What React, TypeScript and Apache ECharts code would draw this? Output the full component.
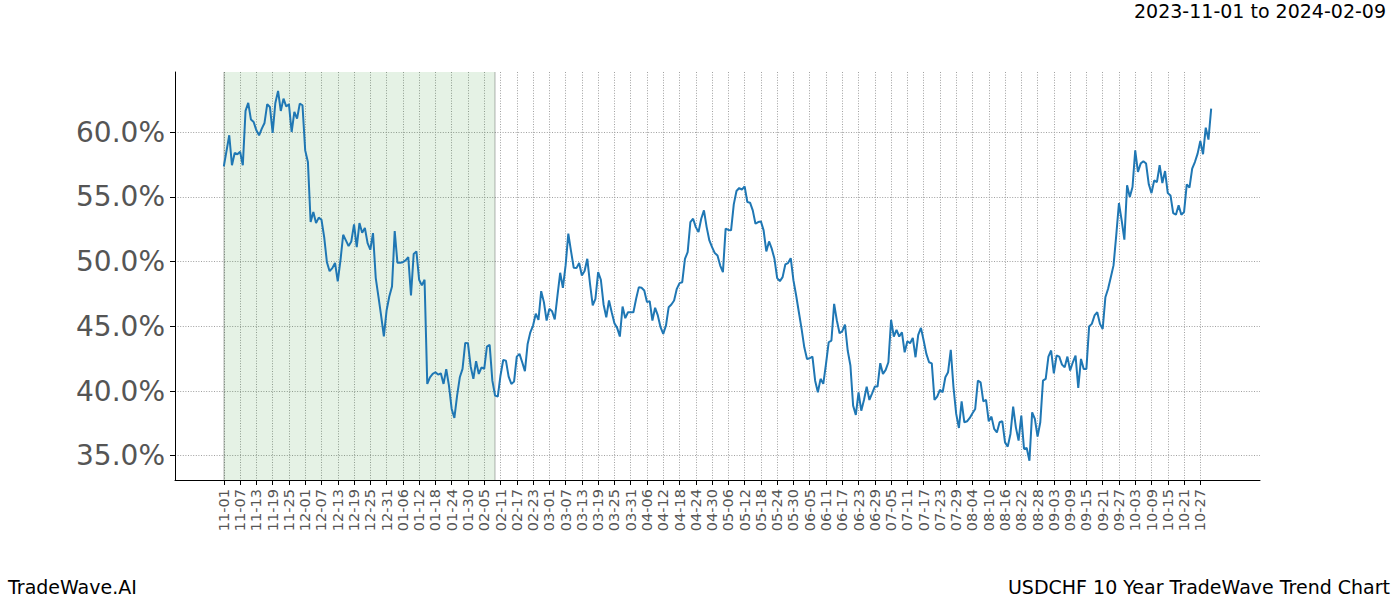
import { useEffect, useRef } from 'react';
import * as echarts from 'echarts';

const tickLabels = [
  '11-01', '11-07', '11-13', '11-19', '11-25', '12-01', '12-07', '12-13', '12-19', '12-25',
  '12-31', '01-06', '01-12', '01-18', '01-24', '01-30', '02-05', '02-11', '02-17', '02-23',
  '03-01', '03-07', '03-13', '03-19', '03-25', '03-31', '04-06', '04-12', '04-18', '04-24',
  '04-30', '05-06', '05-12', '05-18', '05-24', '05-30', '06-05', '06-11', '06-17', '06-23',
  '06-29', '07-05', '07-11', '07-17', '07-23', '07-29', '08-04', '08-10', '08-16', '08-22',
  '08-28', '09-03', '09-09', '09-15', '09-21', '09-27', '10-03', '10-09', '10-15', '10-21',
  '10-27',
];

// day offset from 11-01 (6 days per tick label)
const dayOffsets = [
  0, 2, 3, 4, 5, 6, 7, 8, 9, 10, 11, 12, 13, 14, 15, 16, 17, 18, 19, 20,
  21, 22, 23, 24, 25, 26, 27, 28, 29, 30, 31, 32, 33, 34, 35, 36, 37, 38, 39, 40,
  41, 42, 43, 44, 45, 46, 47, 48, 49, 50, 51, 52, 53, 54, 55, 56, 57, 58, 59, 60,
  61, 62, 63, 64, 65, 66, 67, 68, 69, 70, 71, 72, 73, 74, 75, 76, 77, 78, 79, 80,
  81, 82, 83, 84, 85, 86, 87, 88, 89, 90, 91, 92, 93, 94, 95, 96, 97, 98, 99, 100,
  101, 102, 103, 104, 105, 106, 107, 108, 109, 110, 111, 112, 113, 114, 115, 116, 117, 118, 119, 120,
  121, 122, 123, 124, 125, 126, 127, 128, 129, 130, 131, 132, 133, 134, 135, 136, 137, 138, 139, 140,
  141, 142, 143, 144, 145, 146, 147, 148, 149, 150, 151, 152, 153, 154, 155, 156, 157, 158, 159, 160,
  161, 162, 163, 164, 165, 166, 167, 168, 169, 170, 171, 172, 173, 174, 175, 176, 177, 178, 179, 180,
  181, 182, 183, 184, 185, 186, 187, 188, 189, 190, 191, 192, 193, 194, 195, 196, 197, 198, 199, 200,
  201, 202, 203, 204, 205, 206, 207, 208, 209, 210, 211, 212, 213, 214, 215, 216, 217, 218, 219, 220,
  221, 222, 223, 224, 225, 226, 227, 228, 229, 230, 231, 232, 233, 234, 235, 236, 237, 238, 239, 240,
  241, 242, 243, 244, 245, 246, 247, 248, 249, 250, 251, 252, 253, 254, 255, 256, 257, 258, 259, 260,
  261, 262, 263, 264, 265, 266, 267, 268, 269, 270, 271, 272, 273, 274, 275, 276, 277, 278, 279, 280,
  281, 282, 283, 284, 285, 286, 287, 288, 289, 290, 291, 292, 293, 294, 295, 296, 297, 298, 299, 300,
  301, 302, 303, 304, 305, 306, 307, 308, 309, 310, 311, 312, 313, 314, 315, 316, 317, 318, 319, 320,
  321, 322, 323, 324, 325, 326, 327, 328, 329, 330, 331, 332, 333, 334, 335, 336, 337, 338, 339, 340,
  341, 342, 343, 344, 345, 346, 347, 348, 349, 350, 351, 352, 353, 354, 355, 356, 357, 358, 359, 360,
  361, 362, 363, 364,
];

// trend value (%)
const trendValues = [
  57.37, 59.77, 57.45, 58.4, 58.3, 58.5, 57.45, 61.65, 62.27, 60.98, 60.8, 60.15, 59.77, 60.28, 60.72, 62.17, 61.96, 59.95, 62.27, 63.2,
  61.65, 62.6, 62.0, 62.17, 60.02, 61.57, 61.06, 62.22, 62.09, 58.6, 57.7, 53.06, 53.83, 52.98, 53.4, 53.24, 51.9, 49.96, 49.26, 49.5,
  49.9, 48.47, 50.1, 52.08, 51.64, 51.2, 51.56, 52.88, 51.12, 52.98, 52.24, 52.6, 51.43, 50.92, 52.21, 48.75, 47.3, 45.8, 44.23, 46.22,
  47.31, 48.08, 52.36, 49.92, 49.92, 49.96, 50.1, 50.35, 47.38, 50.6, 50.79, 48.6, 48.16, 48.6, 40.55, 41.06, 41.32, 41.45, 41.27, 41.37,
  40.55, 41.68, 40.42, 38.61, 37.92, 39.64, 41.06, 41.71, 43.72, 43.69, 41.9, 40.94, 42.3, 41.32, 41.83, 41.71, 43.44, 43.57, 40.8, 39.64,
  39.57, 41.2, 42.4, 42.35, 41.11, 40.55, 40.73, 42.66, 42.87, 42.22, 41.53, 43.64, 44.54, 45.06, 45.97, 45.5, 47.72, 46.87, 45.45, 46.35,
  46.17, 45.53, 47.38, 49.14, 47.98, 49.71, 52.16, 50.81, 49.53, 49.5, 49.89, 48.93, 49.27, 50.22, 48.29, 46.61, 47.13, 49.19, 48.6, 46.69,
  45.7, 47.0, 46.09, 45.24, 44.88, 44.21, 46.53, 45.63, 46.09, 46.09, 46.09, 47.13, 48.03, 47.98, 47.77, 46.87, 46.95, 45.45, 46.43, 45.84,
  44.93, 44.42, 45.06, 46.48, 46.69, 47.0, 47.9, 48.34, 48.41, 50.22, 50.73, 53.06, 53.32, 52.67, 52.28, 53.32, 53.96, 52.67, 51.64, 51.12,
  50.66, 50.48, 49.7, 49.19, 52.55, 52.45, 52.42, 54.43, 55.46, 55.69, 55.56, 55.82, 54.61, 54.56, 53.96, 52.93, 53.06, 53.11, 52.42, 50.79,
  51.56, 51.0, 50.22, 48.72, 48.49, 48.8, 49.78, 49.89, 50.27, 48.55, 47.38, 46.09, 44.8, 43.38, 42.48, 42.53, 42.66, 40.8, 39.9, 40.94,
  40.55, 42.1, 43.77, 43.9, 46.74, 45.45, 44.47, 44.62, 45.14, 43.13, 41.97, 38.87, 38.15, 39.9, 38.48, 39.31, 40.34, 39.31, 39.82, 40.34,
  40.34, 42.15, 41.32, 41.63, 42.22, 45.5, 44.21, 44.73, 44.21, 44.54, 42.99, 43.85, 43.69, 44.11, 42.61, 44.34, 44.88, 43.9, 42.87, 42.22,
  42.14, 39.31, 39.57, 40.09, 39.9, 41.06, 41.45, 43.18, 40.29, 38.23, 37.14, 39.2, 37.58, 37.66, 37.92, 38.28, 38.61, 40.8, 40.67, 39.2,
  39.31, 37.66, 38.02, 37.07, 36.8, 37.58, 37.66, 36.03, 35.7, 36.68, 38.79, 37.19, 36.16, 38.1, 35.52, 35.6, 34.61, 38.35, 37.84, 36.47,
  37.58, 40.8, 40.94, 42.66, 43.13, 41.37, 42.74, 42.66, 42.04, 41.83, 42.66, 41.58, 42.22, 42.74, 40.24, 42.48, 41.71, 41.71, 44.98, 45.19,
  45.84, 46.09, 45.19, 44.8, 47.25, 47.9, 48.8, 49.71, 52.03, 54.53, 53.19, 51.7, 55.9, 54.99, 55.77, 58.61, 56.93, 57.58, 57.76, 57.58,
  55.98, 55.3, 56.28, 56.15, 57.45, 56.08, 57.0, 55.3, 55.12, 53.75, 53.63, 54.35, 53.63, 53.83, 55.98, 55.72, 57.19, 57.7, 58.35, 59.33,
  58.3, 60.36, 59.43, 61.83,
];

const highlightStartDay = 0;
const highlightEndDay = 100;
const titleText = '2023-11-01 to 2024-02-09';
const brandText = 'TradeWave.AI';
const chartName = 'USDCHF 10 Year TradeWave Trend Chart';

const DAYS_BEFORE = 18;
const DAYS_AFTER = 382;
const TICK_STEP = 6;

export default function App() {
  const ref = useRef<HTMLDivElement>(null);

  useEffect(() => {
    if (!ref.current) return;
    const chart = echarts.init(ref.current, undefined, { renderer: 'svg' });

    const categories: string[] = [];
    for (let k = -DAYS_BEFORE; k <= DAYS_AFTER; k++) categories.push('d' + k);

    const isTick = (index: number) => {
      const k = index - DAYS_BEFORE;
      return k >= 0 && k % TICK_STEP === 0 && k / TICK_STEP < tickLabels.length;
    };

    const seriesData = dayOffsets.map((d, i) => [d + DAYS_BEFORE, trendValues[i]]);
    const font = 'DejaVu Sans';
    const gridLine = { color: '#a0a0a0', width: 1, type: [1, 1.6] as any };

    chart.setOption({
      animation: false,
      backgroundColor: '#ffffff',
      grid: { left: 175, right: 140, top: 72, bottom: 120, containLabel: false },
      xAxis: {
        type: 'category',
        data: categories,
        boundaryGap: false,
        axisLine: { show: true, lineStyle: { color: '#000', width: 1 } },
        axisTick: { show: true, interval: isTick, length: 5, lineStyle: { color: '#000' } },
        axisLabel: {
          interval: isTick,
          rotate: 90,
          margin: 9,
          fontSize: 14.5,
          fontFamily: font,
          color: '#555',
          formatter: (value: string) => {
            const k = parseInt(String(value).slice(1), 10);
            return tickLabels[k / TICK_STEP] ?? '';
          },
        },
        splitLine: { show: true, interval: isTick, lineStyle: gridLine },
      },
      yAxis: {
        type: 'value',
        min: 33.12,
        max: 64.66,
        axisLine: { show: true, lineStyle: { color: '#000', width: 1 } },
        axisTick: { show: true, length: 5, lineStyle: { color: '#000' } },
        axisLabel: {
          fontSize: 28,
          fontFamily: font,
          color: '#555',
          margin: 10,
          showMinLabel: false,
          showMaxLabel: false,
          formatter: (v: number) => v.toFixed(1) + '%',
        },
        splitLine: { show: true, lineStyle: gridLine, showMinLine: false, showMaxLine: false },
      },
      series: [
        {
          type: 'line',
          data: seriesData,
          showSymbol: false,
          symbol: 'none',
          lineStyle: { color: '#1f77b4', width: 2 },
          z: 5,
          markArea: {
            silent: true,
            itemStyle: { color: 'rgba(0,128,0,0.1)' },
            data: [[{ xAxis: 'd' + highlightStartDay }, { xAxis: 'd' + highlightEndDay }]],
          },
          markLine: {
            silent: true,
            symbol: 'none',
            label: { show: false },
            lineStyle: { color: 'rgba(0,0,0,0.14)', width: 2, type: 'solid' },
            data: [{ xAxis: 'd' + highlightStartDay }, { xAxis: 'd' + highlightEndDay }],
          },
        },
      ],
      graphic: [
        {
          type: 'text',
          right: 14,
          top: 1,
          style: { text: titleText, font: `19px "${font}"`, fill: '#000' },
        },
        {
          type: 'text',
          left: 8,
          top: 577,
          style: { text: brandText, font: `19px "${font}"`, fill: '#000' },
        },
        {
          type: 'text',
          right: 10,
          top: 577,
          style: { text: chartName, font: `19px "${font}"`, fill: '#000' },
        },
      ],
    });

    return () => chart.dispose();
  }, []);

  return (
    <div
      ref={ref}
      style={{ position: 'fixed', left: 0, top: 0, width: 1400, height: 600, background: '#fff' }}
    />
  );
}
